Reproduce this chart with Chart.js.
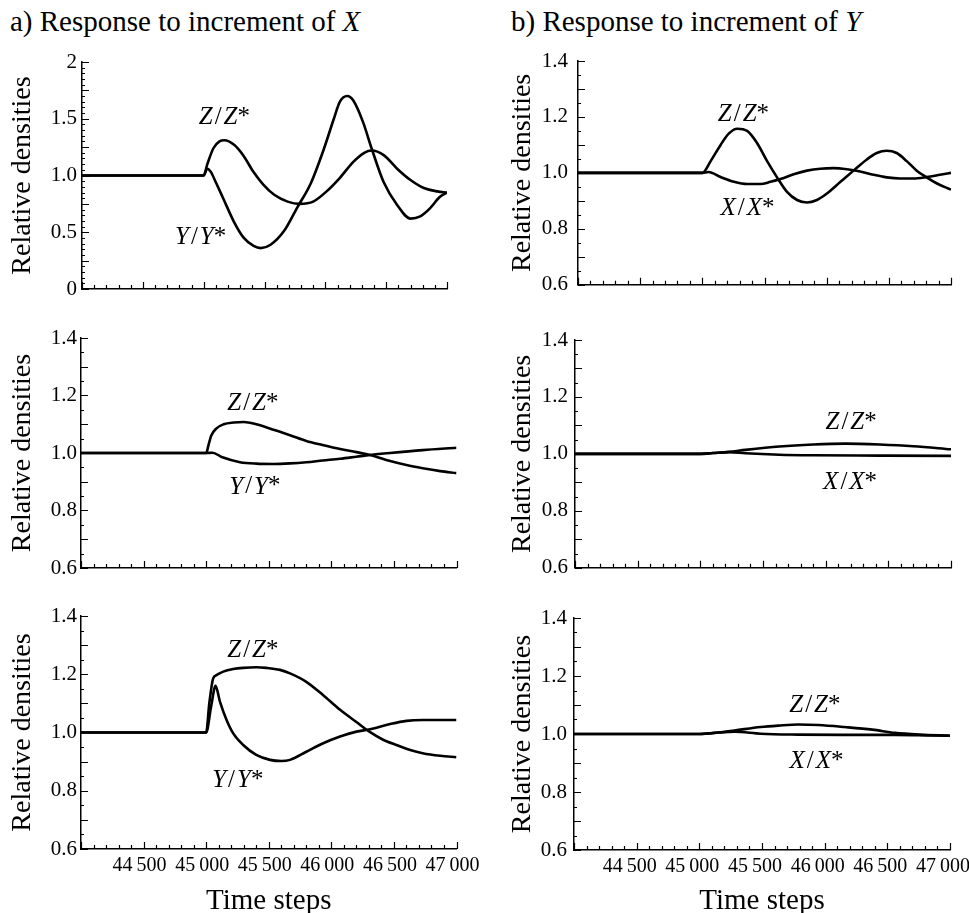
<!DOCTYPE html>
<html>
<head>
<meta charset="utf-8">
<script src="https://cdn.jsdelivr.net/npm/chart.js@4.4.1/dist/chart.umd.min.js"></script>
<style>
  html, body { margin: 0; padding: 0; background: #fff; }
  body { width: 969px; height: 913px; position: relative; overflow: hidden;
         font-family: "Liberation Serif", "Times New Roman", serif; color: #000; }
  .ptitle { position: absolute; top: 6px; font-size: 29px; line-height: 30px; white-space: nowrap; }
  canvas { position: absolute; }
</style>
</head>
<body>
<div class="ptitle" style="left:10px">a) Response to increment of <i>X</i></div>
<div class="ptitle" style="left:511px">b) Response to increment of <i>Y</i></div>

<canvas id="a1" width="510" height="260" style="left:0;top:40px"></canvas>
<canvas id="a2" width="510" height="280" style="left:0;top:300px"></canvas>
<canvas id="a3" width="510" height="333" style="left:0;top:580px"></canvas>
<canvas id="b1" width="520" height="260" style="left:480px;top:40px"></canvas>
<canvas id="b2" width="520" height="280" style="left:480px;top:300px"></canvas>
<canvas id="b3" width="520" height="333" style="left:480px;top:580px"></canvas>

<script>
'use strict';

/* Data (time step, relative density) */

// a) increment of X -- top
var tA1z = [44000, 45000, 45030, 45080, 45130, 45170, 45250, 45330, 45410, 45490, 45580, 45690, 45790, 45900, 46010, 46120, 46230, 46320, 46380, 46480, 46590, 46700, 46810, 46920, 47000];
var zA1  = [1.00, 1.00, 1.10, 1.24, 1.30, 1.31, 1.27, 1.17, 1.03, 0.92, 0.83, 0.77, 0.75, 0.77, 0.86, 0.98, 1.12, 1.20, 1.22, 1.18, 1.06, 0.96, 0.89, 0.86, 0.85];
var tA1y = [44000, 45000, 45030, 45060, 45100, 45160, 45250, 45330, 45410, 45470, 45550, 45660, 45770, 45880, 45990, 46070, 46120, 46180, 46230, 46310, 46380, 46480, 46590, 46700, 46780, 46860, 46940, 47000];
var yA1  = [1.00, 1.00, 1.06, 1.03, 0.94, 0.80, 0.59, 0.45, 0.38, 0.36, 0.39, 0.51, 0.72, 0.93, 1.24, 1.50, 1.65, 1.70, 1.66, 1.47, 1.24, 0.94, 0.74, 0.62, 0.64, 0.71, 0.81, 0.85];

// a) middle
var tA2z = [44000, 45000, 45020, 45040, 45080, 45140, 45220, 45300, 45400, 45530, 45670, 45800, 45930, 46070, 46200, 46310, 46470, 46600, 46730, 46870, 47000];
var zA2  = [1.000, 1.000, 1.030, 1.060, 1.085, 1.100, 1.106, 1.108, 1.100, 1.082, 1.062, 1.042, 1.028, 1.014, 1.003, 0.993, 0.972, 0.958, 0.947, 0.937, 0.930];
var tA2y = [44000, 45000, 45050, 45130, 45270, 45400, 45540, 45670, 45800, 45930, 46070, 46200, 46310, 46470, 46730, 47000];
var yA2  = [1.000, 1.000, 1.001, 0.985, 0.968, 0.963, 0.962, 0.964, 0.968, 0.974, 0.980, 0.987, 0.993, 1.000, 1.010, 1.018];

// a) bottom
var tA3z = [44000, 45000, 45025, 45056, 45083, 45136, 45216, 45296, 45400, 45480, 45590, 45670, 45800, 45935, 46070, 46200, 46310, 46410, 46520, 46630, 46730, 46870, 47000];
var zA3  = [1.000, 1.000, 1.100, 1.186, 1.197, 1.209, 1.218, 1.222, 1.224, 1.222, 1.215, 1.203, 1.174, 1.128, 1.078, 1.036, 1.001, 0.976, 0.957, 0.940, 0.929, 0.920, 0.915];
var tA3y = [44000, 45000, 45040, 45075, 45110, 45163, 45216, 45296, 45400, 45510, 45600, 45670, 45800, 45935, 46070, 46200, 46310, 46470, 46600, 46730, 46870, 47000];
var yA3  = [1.000, 1.000, 1.090, 1.160, 1.106, 1.043, 0.997, 0.957, 0.923, 0.906, 0.902, 0.906, 0.934, 0.963, 0.986, 1.003, 1.011, 1.029, 1.040, 1.043, 1.043, 1.043];

// b) increment of Y -- top
var tB1z = [44000, 45000, 45067, 45147, 45214, 45280, 45361, 45441, 45521, 45601, 45681, 45762, 45842, 45922, 46002, 46109, 46216, 46323, 46403, 46483, 46563, 46644, 46724, 46804, 46884, 47000];
var zB1  = [1.000, 1.000, 1.042, 1.100, 1.141, 1.158, 1.150, 1.106, 1.042, 0.984, 0.932, 0.903, 0.894, 0.903, 0.926, 0.967, 1.008, 1.048, 1.071, 1.079, 1.071, 1.042, 1.008, 0.984, 0.963, 0.940];
var tB1x = [44000, 45000, 45050, 45147, 45254, 45361, 45468, 45548, 45628, 45735, 45842, 45949, 46056, 46163, 46270, 46377, 46483, 46590, 46697, 46804, 46911, 47000];
var xB1  = [1.000, 1.000, 1.003, 0.985, 0.968, 0.960, 0.960, 0.968, 0.978, 0.995, 1.008, 1.015, 1.017, 1.013, 1.005, 0.993, 0.984, 0.980, 0.980, 0.985, 0.993, 1.000];

// b) middle
var tB2z = [44000, 45000, 45100, 45230, 45360, 45630, 45900, 46160, 46430, 46700, 47000];
var zB2  = [1.000, 1.000, 1.003, 1.007, 1.014, 1.026, 1.033, 1.036, 1.033, 1.027, 1.016];
var tB2x = [44000, 45000, 45100, 45230, 45360, 45630, 45900, 46430, 47000];
var xB2  = [1.000, 1.000, 1.003, 1.006, 1.002, 0.997, 0.995, 0.994, 0.993];

// b) bottom
var tB3z = [44000, 45000, 45150, 45280, 45490, 45630, 45790, 45950, 46160, 46380, 46560, 46750, 47000];
var zB3  = [1.000, 1.000, 1.005, 1.012, 1.024, 1.029, 1.033, 1.031, 1.024, 1.015, 1.004, 0.998, 0.994];
var tB3x = [44000, 45000, 45150, 45280, 45490, 45790, 46160, 46560, 46750, 47000];
var xB3  = [1.000, 1.000, 1.005, 1.008, 1.001, 0.998, 0.997, 0.997, 0.996, 0.994];

var FONT = '"Liberation Serif", "Times New Roman", serif';

function pts(t, v) {
  return t.map(function(x, i) { return {x: x, y: v[i]}; });
}

function timeLabel(v) {
  if (v <= 44000) return '';
  var r = v % 1000;
  return Math.floor(v / 1000) + '\u2009' + (r === 0 ? '000' : String(r));
}

// tick marks pointing into the plot, like the original figure
var innerTicks = {
  id: 'innerTicks',
  afterDraw: function(chart, args, o) {
    var ctx = chart.ctx, a = chart.chartArea;
    var xs = chart.scales.x, ys = chart.scales.y;
    var i, v, p, n;
    ctx.save();
    ctx.strokeStyle = '#000';
    ctx.lineWidth = 1.2;
    ctx.beginPath();
    n = Math.round((xs.max - xs.min) / o.xMinor);
    for (i = 0; i <= n; i++) {
      v = xs.min + i * o.xMinor;
      p = Math.round(xs.getPixelForValue(v)) + 0.5;
      var len = (v % o.xMajor === 0) ? 7 : 4;
      ctx.moveTo(p, a.bottom);
      ctx.lineTo(p, a.bottom - len);
    }
    n = Math.round((ys.max - ys.min) / o.yMinor);
    for (i = 0; i <= n; i++) {
      v = ys.min + i * o.yMinor;
      p = Math.round(ys.getPixelForValue(v)) + 0.5;
      var q = v / o.yMajor;
      var ylen = Math.abs(q - Math.round(q)) < 1e-6 ? 7 : 3;
      ctx.moveTo(a.left, p);
      ctx.lineTo(a.left + ylen, p);
    }
    ctx.stroke();
    ctx.restore();
  }
};

// curve names such as Z/Z*, italic letters with upright slash and star
var curveLabels = {
  id: 'curveLabels',
  afterDatasetsDraw: function(chart, args, o) {
    var ctx = chart.ctx, xs = chart.scales.x, ys = chart.scales.y;
    ctx.save();
    ctx.fillStyle = '#000';
    ctx.textBaseline = 'middle';
    ctx.textAlign = 'left';
    (o.items || []).forEach(function(it) {
      var parts = [[it.name, 'italic'], ['/', 'normal'], [it.name, 'italic'], ['*', 'normal']];
      var gaps = [2, 2, 0, 0];
      var total = 0;
      parts.forEach(function(pt, k) {
        ctx.font = pt[1] + ' 25px ' + FONT;
        pt.w = ctx.measureText(pt[0]).width;
        total += pt.w + gaps[k];
      });
      var x = xs.getPixelForValue(it.x) - total / 2;
      var y = ys.getPixelForValue(it.y);
      parts.forEach(function(pt, k) {
        ctx.font = pt[1] + ' 25px ' + FONT;
        ctx.fillText(pt[0], x, y);
        x += pt.w + gaps[k];
      });
    });
    ctx.restore();
  }
};

function makePanel(id, cfg) {
  var ctx = document.getElementById(id).getContext('2d');
  var showX = !!cfg.bottom;
  return new Chart(ctx, {
    type: 'line',
    data: {
      datasets: cfg.series.map(function(s) {
        return {
          data: pts(s.t, s.v),
          borderColor: '#000',
          borderWidth: 2.6,
          pointRadius: 0,
          fill: false,
          cubicInterpolationMode: 'monotone'
        };
      })
    },
    options: {
      responsive: false,
      animation: false,
      layout: { padding: { top: cfg.padTop, right: cfg.padRight, left: 0, bottom: 0 } },
      plugins: {
        legend: { display: false },
        tooltip: { enabled: false },
        innerTicks: { xMajor: 500, xMinor: 100, yMajor: cfg.yMajor, yMinor: 0.05 },
        curveLabels: { items: cfg.labels }
      },
      scales: {
        x: {
          type: 'linear',
          min: 44000,
          max: 47000,
          grid: { display: false, drawTicks: false },
          border: { display: true, color: '#000', width: 1.5 },
          ticks: {
            display: showX,
            stepSize: 500,
            autoSkip: false,
            maxRotation: 0,
            padding: 5,
            labelOffset: cfg.xShift || -4,
            color: '#000',
            font: { family: FONT, size: 20 },
            callback: timeLabel
          },
          title: {
            display: showX,
            text: 'Time steps',
            color: '#000',
            font: { family: FONT, size: 29, lineHeight: 1 },
            padding: { top: 0, bottom: -3 }
          },
          afterFit: function(s) { s.height = cfg.xHeight; }
        },
        y: {
          min: cfg.yMin,
          max: cfg.yMax,
          grid: { display: false, drawTicks: false },
          border: { display: true, color: '#000', width: 1.5 },
          ticks: {
            stepSize: cfg.yStep,
            padding: cfg.yPad,
            color: '#000',
            font: { family: FONT, size: 21, lineHeight: 0.5 },
            callback: cfg.yFmt
          },
          title: {
            display: true,
            text: 'Relative densities',
            color: '#000',
            font: { family: FONT, size: 28 },
            padding: { top: cfg.titlePad, bottom: 0 }
          },
          afterFit: function(s) { s.width = cfg.yWidth; }
        }
      }
    },
    plugins: [innerTicks, curveLabels]
  });
}

function fmtNarrow(v) { return v.toFixed(1); }
function fmtWide(v) {
  if (Math.abs(v) < 1e-9) return '0';
  if (Math.abs(v - 2) < 1e-9) return '2';
  return v.toFixed(1);
}

var narrow = { yMin: 0.6, yMax: 1.4, yStep: 0.2, yMajor: 0.1, yFmt: fmtNarrow };

makePanel('a1', {
  series: [{t: tA1z, v: zA1}, {t: tA1y, v: yA1}],
  labels: [{name: 'Z', x: 45170, y: 1.515}, {name: 'Y', x: 44975, y: 0.458}],
  yMin: 0, yMax: 2, yStep: 0.5, yMajor: 0.25, yFmt: fmtWide,
  padTop: 22, padRight: 63, yWidth: 82, xHeight: 11, yPad: 5, titlePad: 6
});
makePanel('a2', Object.assign({}, narrow, {
  series: [{t: tA2z, v: zA2}, {t: tA2y, v: yA2}],
  labels: [{name: 'Z', x: 45373, y: 1.174}, {name: 'Y', x: 45389, y: 0.882}],
  padTop: 38, padRight: 53.5, yWidth: 81, xHeight: 12, yPad: 4, titlePad: 6
}));
makePanel('a3', Object.assign({}, narrow, {
  series: [{t: tA3z, v: zA3}, {t: tA3y, v: yA3}],
  labels: [{name: 'Z', x: 45373, y: 1.283}, {name: 'Y', x: 45253, y: 0.837}],
  padTop: 36, padRight: 53.5, yWidth: 81, xHeight: 64, yPad: 4, titlePad: 6, bottom: true
}));
makePanel('b1', Object.assign({}, narrow, {
  series: [{t: tB1z, v: zB1}, {t: tB1x, v: xB1}],
  labels: [{name: 'Z', x: 45331, y: 1.21}, {name: 'X', x: 45363, y: 0.874}],
  padTop: 21, padRight: 49, yWidth: 98, xHeight: 11, yPad: 10, titlePad: 26
}));
makePanel('b2', Object.assign({}, narrow, {
  series: [{t: tB2z, v: zB2}, {t: tB2x, v: xB2}],
  labels: [{name: 'Z', x: 46203, y: 1.109}, {name: 'X', x: 46195, y: 0.901}],
  padTop: 40, padRight: 49, yWidth: 95, xHeight: 11, yPad: 7, titlePad: 26
}));
makePanel('b3', Object.assign({}, narrow, {
  series: [{t: tB3z, v: zB3}, {t: tB3x, v: xB3}],
  labels: [{name: 'Z', x: 45922, y: 1.10}, {name: 'X', x: 45935, y: 0.905}],
  padTop: 38, padRight: 50, yWidth: 94, xHeight: 63, yPad: 7, titlePad: 26, bottom: true, xShift: -7
}));
</script>
</body>
</html>
